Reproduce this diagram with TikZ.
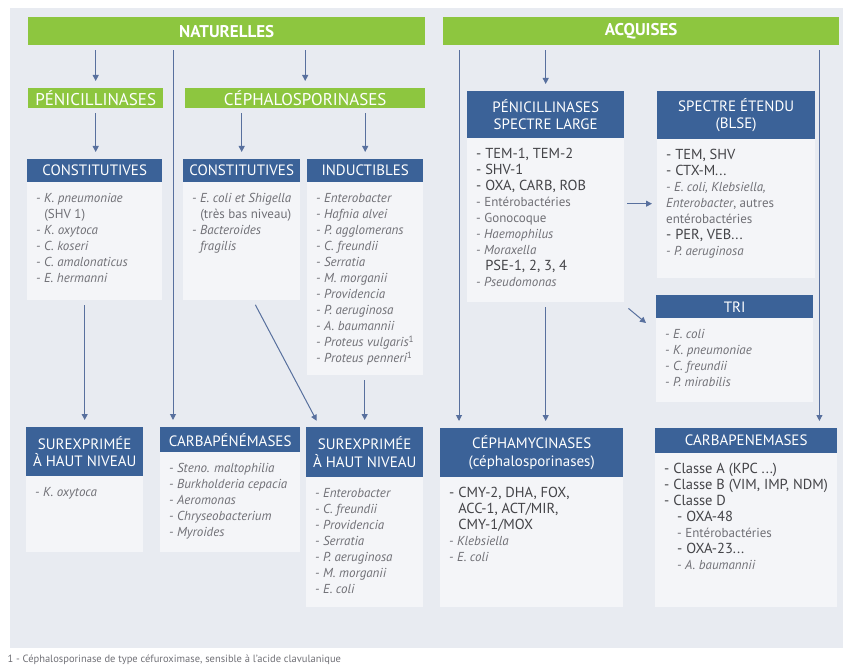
\documentclass[tikz,border=0pt]{standalone}
\usepackage{fontspec}
\setmainfont{PT Sans}
\usetikzlibrary{arrows.meta,calc}

\definecolor{panelgray}{RGB}{232,235,241}
\definecolor{boxgray}{RGB}{244,245,248}
\definecolor{bargreen}{RGB}{141,198,63}
\definecolor{headblue}{RGB}{59,98,152}
\definecolor{arrowblue}{RGB}{88,112,158}
\definecolor{txtgray}{RGB}{112,112,118}
\definecolor{txtdark}{RGB}{68,68,72}

\tikzset{
	enzbar/.style={fill=bargreen, text=white, anchor=north west, inner sep=0, font=\fontsize{17}{19}\selectfont},
	enzhead/.style={fill=headblue, text=white, anchor=north west, inner sep=0, align=center, font=\fontsize{15}{17.5}\selectfont},
	enzlist/.style={fill=boxgray, text=txtgray, anchor=north west, inner xsep=9pt, inner ysep=9.5pt, font=\fontsize{13}{16}\selectfont\itshape},
	arr/.style={draw=arrowblue, line width=1pt, -{Triangle[width=6pt,length=6pt]}, shorten <=5pt, shorten >=7pt},
	footnote/.style={anchor=west, text=txtgray, font=\fontsize{10.5}{12}\selectfont}
}

\newcommand{\enzbar}[6]{
	\node[enzbar, minimum width=#4, minimum height=#5] (#1) at (#2,#3) {#6};
}
\newcommand{\enzhead}[6]{
	\node[enzhead, minimum width=#4, minimum height=#5] (#1) at (#2,#3) {#6};
}
\newcommand{\enzlist}[6]{
	\node[enzlist] (#1) at (#2,#3) {\parbox[t][\dimexpr#5pt-19pt\relax][t]{\dimexpr#4pt-18pt\relax}{\raggedright\strut#6}};
}
\newcommand{\enzdark}[1]{{\upshape\color{txtdark}\fontsize{14.5}{16}\selectfont #1}}
\newcommand{\enzup}[1]{{\upshape #1}}

\begin{document}
\begin{tikzpicture}[x=1pt,y=-1pt]
	\useasboundingbox (0,0) rectangle (843,666);
	\fill[panelgray] (10,8) rectangle (843,648);

	\enzbar{nat}{28}{17}{397}{28}{\bfseries NATURELLES}
	\enzbar{acq}{443}{17}{396}{28}{\bfseries ACQUISES}
	\enzbar{penN}{28}{88}{135}{20}{PÉNICILLINASES}
	\enzbar{cephN}{185}{88}{240}{20}{CÉPHALOSPORINASES}

	\enzhead{constLH}{27}{159}{135}{23}{CONSTITUTIVES}
	\enzlist{constLL}{27}{182}{135}{118}{- K. pneumoniae\\\enzup{\phantom{- }(SHV 1)}\\- K. oxytoca\\- C. koseri\\- C. amalonaticus\\- E. hermanni}
	\enzhead{constCH}{183}{159}{117}{23}{CONSTITUTIVES}
	\enzlist{constCL}{183}{182}{117}{118}{- E. coli et Shigella\\\enzup{\phantom{- }(très bas niveau)}\\- Bacteroides\\\phantom{- }fragilis}
	\enzhead{inducH}{307}{159}{116}{23}{INDUCTIBLES}
	\enzlist{inducL}{307}{182}{116}{193}{- Enterobacter\\- Hafnia alvei\\- P. agglomerans\\- C. freundii\\- Serratia\\- M. morganii\\- Providencia\\- P. aeruginosa\\- A. baumannii\\- Proteus vulgaris\textsuperscript{\upshape 1}\\- Proteus penneri\textsuperscript{\upshape 1}}

	\enzhead{pslH}{467}{91}{157}{47}{PÉNICILLINASES\\SPECTRE LARGE}
	\enzlist{pslL}{467}{138}{157}{164}{\enzdark{- TEM-1, TEM-2}\\\enzdark{- SHV-1}\\\enzdark{- OXA, CARB, ROB}\\\enzup{- Entérobactéries}\\\enzup{- Gonocoque}\\- Haemophilus\\- Moraxella\\\enzdark{\phantom{- }PSE-1, 2, 3, 4}\\- Pseudomonas}
	\enzhead{bsleH}{657}{91}{158}{48}{SPECTRE ÉTENDU\\(BLSE)}
	\enzlist{bsleL}{657}{139}{158}{139}{\enzdark{- TEM, SHV}\\\enzdark{- CTX-M...}\\- E. coli, Klebsiella,\\Enterobacter\enzup{, autres}\\\enzup{entérobactéries}\\\enzdark{- PER, VEB...}\\- P. aeruginosa}
	\enzhead{triH}{656}{295}{157}{23}{TRI}
	\enzlist{triL}{656}{318}{157}{84}{- E. coli\\- K. pneumoniae\\- C. freundii\\- P. mirabilis}

	\enzhead{surLH}{26}{427}{117}{49}{SUREXPRIMÉE\\À HAUT NIVEAU}
	\enzlist{surLL}{26}{476}{117}{76}{- K. oxytoca}
	\enzhead{carbaH}{160}{427}{140}{25}{CARBAPÉNÉMASES}
	\enzlist{carbaL}{160}{452}{140}{100}{- Steno. maltophilia\\- Burkholderia cepacia\\- Aeromonas\\- Chryseobacterium\\- Myroides}
	\enzhead{surCH}{306}{427}{117}{50}{SUREXPRIMÉE\\À HAUT NIVEAU}
	\enzlist{surCL}{306}{477}{117}{130}{- Enterobacter\\- C. freundii\\- Providencia\\- Serratia\\- P. aeruginosa\\- M. morganii\\- E. coli}
	\enzhead{cephamH}{440}{428}{183}{49}{CÉPHAMYCINASES\\(céphalosporinases)}
	\enzlist{cephamL}{440}{477}{183}{130}{\enzdark{- CMY-2, DHA, FOX,}\\\enzdark{\phantom{- }ACC-1, ACT/MIR,}\\\enzdark{\phantom{- }CMY-1/MOX}\\- Klebsiella\\- E. coli}
	\enzhead{carbRH}{655}{428}{182}{25}{CARBAPENEMASES}
	\enzlist{carbRL}{655}{453}{182}{154}{\enzdark{- Classe A (KPC ...)}\\\enzdark{- Classe B (VIM, IMP, NDM)}\\\enzdark{- Classe D}\\\enzdark{\hspace*{13pt}- OXA-48}\\\enzup{\hspace*{13pt}- Entérobactéries}\\\enzdark{\hspace*{13pt}- OXA-23...}\\\hspace*{13pt}- A. baumannii}

	\node[footnote] (fn) at (4,660) {1 - Céphalosporinase de type céfuroximase, sensible à l'acide clavulanique};

	\coordinate (cbIn) at ([xshift=13pt]carbaH.north west);
	\coordinate (ceIn) at ([xshift=19pt]cephamH.north west);
	\coordinate (crIn) at ([xshift=-18pt]carbRH.north east);

	\draw[arr] (nat.south -| penN) -- (penN.north);
	\draw[arr] (nat.south -| cephN) -- (cephN.north);
	\draw[arr] (nat.south -| cbIn) -- (cbIn);
	\draw[arr] (penN.south) -- (penN.south |- constLH.north);
	\draw[arr] (cephN.south -| constCH) -- (constCH.north);
	\draw[arr] (cephN.south -| inducH) -- (inducH.north);
	\draw[arr] (constLL.south -| surLH) -- (surLH.north);
	\draw[arr] ([xshift=70pt]constCL.south west) -- ([xshift=14pt]surCH.north west);
	\draw[arr] (inducL.south -| surCH) -- (surCH.north);

	\draw[arr] (acq.south -| pslH) -- (pslH.north);
	\draw[arr] (acq.south -| ceIn) -- (ceIn);
	\draw[arr] (acq.south -| crIn) -- (crIn);
	\draw[arr] (pslL.south) -- (pslL.south |- cephamH.north);
	\draw[arr, shorten <=3pt, shorten >=5pt] ($(pslL.east |- bsleL.west)+(0,-5)$) -- ($(bsleL.west)+(0,-5)$);
	\draw[arr, shorten <=0pt, shorten >=0pt] ($(pslL.south east)+(4,6)$) -- ($(triL.north west)+(-10,5)$);
\end{tikzpicture}
\end{document}
